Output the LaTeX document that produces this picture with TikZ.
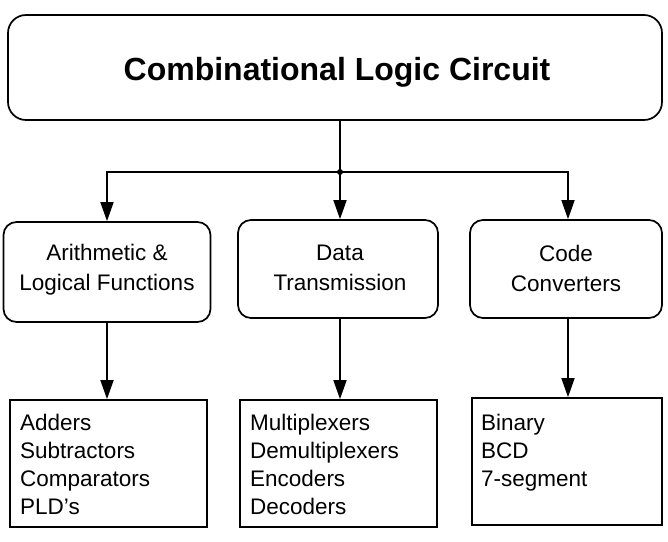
\documentclass[tikz,border=0pt]{standalone}
\usepackage{fontspec}
\setmainfont{Liberation Sans}
\usetikzlibrary{arrows.meta}
\begin{document}
\begin{tikzpicture}[x=1pt,y=-1pt,
  frame/.style={draw, line width=1.7pt, inner sep=0pt},
  roundbox/.style={frame, rounded corners=13pt},
  listbox/.style={frame},
  link/.style={line width=1.7pt},
  flow/.style={link, -{Triangle[length=19pt,width=13pt]}},
  midtext/.style={align=center, font=\fontsize{22.5}{30}\selectfont},
  item/.style={anchor=base west, inner sep=0pt, font=\fontsize{22.5}{28}\selectfont},
]
\useasboundingbox (0,0) rectangle (668,541);

% main block
\node[roundbox, rounded corners=18pt, minimum width=654pt, minimum height=105pt] (top) at (335,67.5) {};
\node[anchor=base, inner sep=0pt, font=\bfseries\fontsize{32}{36}\selectfont] (title) at (337,80) {Combinational Logic Circuit};

% second row
\node[roundbox, minimum width=207pt, minimum height=100pt] (mid1) at (107,272) {};
\node[roundbox, minimum width=200pt, minimum height=98pt] (mid2) at (338,269) {};
\node[roundbox, minimum width=192pt, minimum height=98pt] (mid3) at (566,269) {};
\node[midtext] (t1) at (107,270) {Arithmetic \&\\Logical Functions};
\node[midtext] (t2) at (340,268) {Data\\Transmission};
\node[midtext] (t3) at (566,268) {Code\\Converters};

% third row
\node[listbox, minimum width=197pt, minimum height=127pt] (bot1) at (108.5,463.5) {};
\node[listbox, minimum width=197pt, minimum height=127pt] (bot2) at (338.5,463.5) {};
\node[listbox, minimum width=190pt, minimum height=127pt] (bot3) at (567,461.5) {};

\node[item] (a1) at (20,430) {Adders};
\node[item] (a2) at (20,458) {Subtractors};
\node[item] (a3) at (20,486) {Comparators};
\node[item] (a4) at (20,514) {PLD's};

\node[item] (b1) at (250,430) {Multiplexers};
\node[item] (b2) at (250,458) {Demultiplexers};
\node[item] (b3) at (250,486) {Encoders};
\node[item] (b4) at (250,514) {Decoders};

\node[item] (c1) at (481,430) {Binary};
\node[item] (c2) at (481,458) {BCD};
\node[item] (c3) at (481,486) {7-segment};

% connectors
\coordinate (j) at (340,172);
\draw[link] (top.south -| j) -- (j);
\fill (j) circle (3pt);
\draw[flow] (j) -| (mid1.north);
\draw[flow] (j) -- (j |- mid2.north);
\draw[flow] (j) -| ([xshift=2pt]mid3.north);
\draw[flow] (mid1.south) -- (mid1.south |- bot1.north);
\draw[flow] ([xshift=2pt]mid2.south) -- ([xshift=2pt]mid2.south |- bot2.north);
\draw[flow] ([xshift=2pt]mid3.south) -- ([xshift=2pt]mid3.south |- bot3.north);
\end{tikzpicture}
\end{document}
